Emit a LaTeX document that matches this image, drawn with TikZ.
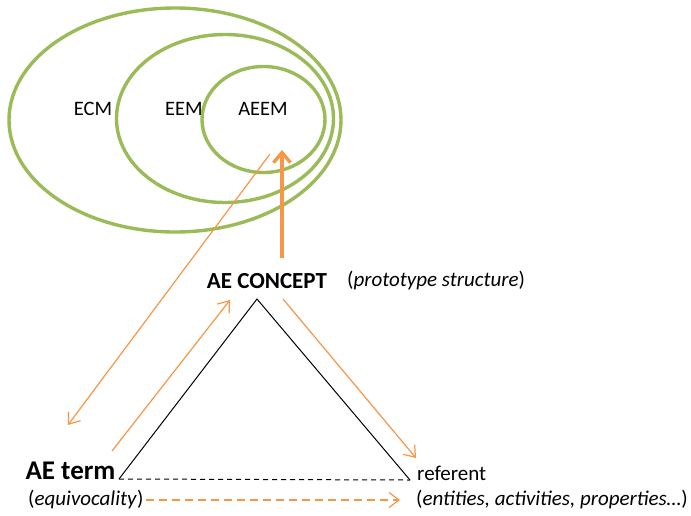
\documentclass[tikz,border=0pt]{standalone}
\usepackage{fontspec}
\setmainfont{Carlito}
\usetikzlibrary{arrows.meta,positioning,calc}
\definecolor{leaf}{RGB}{155,187,89}
\definecolor{amber}{RGB}{247,150,70}

\begin{document}
\begin{tikzpicture}[x=1pt,y=-1pt,
  ring/.style={draw=leaf,line width=3.4pt},
  lbl/.style={inner sep=0pt,font=\fontsize{20.5}{24}\selectfont},
  note/.style={lbl,anchor=west,font=\fontsize{21}{24}\selectfont},
  arr/.style={amber,line width=1.2pt,-{Straight Barb[length=10pt,width=15pt]}},
  fat/.style={amber,line width=3.4pt,-{Straight Barb[length=10pt,width=17pt]}}]
\useasboundingbox (0,0) rectangle (691,515);
% nested models
\draw[ring] (175,120) ellipse [x radius=166,y radius=112];
\draw[ring] (225,118.5) ellipse [x radius=108.5,y radius=84];
\draw[ring] (263.5,119.5) ellipse [x radius=61.5,y radius=53];
\node[lbl] (ecm) at (93,109) {ECM};
\node[lbl] (eem) at (184,109) {EEM};
\node[lbl] (aeem) at (263,109) {AEEM};
\coordinate (core) at (282,150);
\coordinate (edge) at (270,154);
% semiotic triangle
\node[lbl,font=\fontsize{23}{26}\selectfont\bfseries] (concept) at (267,281) {AE CONCEPT};
\node[note] (proto) at (347,281) {(\textit{prototype structure})};
\node[lbl,font=\fontsize{27}{30}\selectfont\bfseries] (term) at (70.5,471) {AE term};
\node[note] (equiv) at (28,500) {(\textit{equivocality})};
\node[note] (ref) at (417,473) {referent};
\node[note] (ents) at (416,500) {(\textit{entities, activities, properties\dots})};
\coordinate (apex) at (257,299);
\coordinate (lft) at (119,479);
\coordinate (rgt) at (410,480);
\draw[line width=1pt] (lft) -- (apex) -- (rgt);
\draw[line width=1pt,dash pattern=on 5pt off 4pt] (lft) -- (rgt);
% links
\draw[fat] (concept.north -| core) ++(0,-15) -- (core);
\draw[arr] (edge) -- (68,425);
\draw[arr] (112,451) -- (230,300);
\draw[arr] (283,299) -- (416,458);
\draw[arr,dash pattern=on 8pt off 5pt] (equiv.east) ++(2,0) -- (400,500);
\end{tikzpicture}
\end{document}
